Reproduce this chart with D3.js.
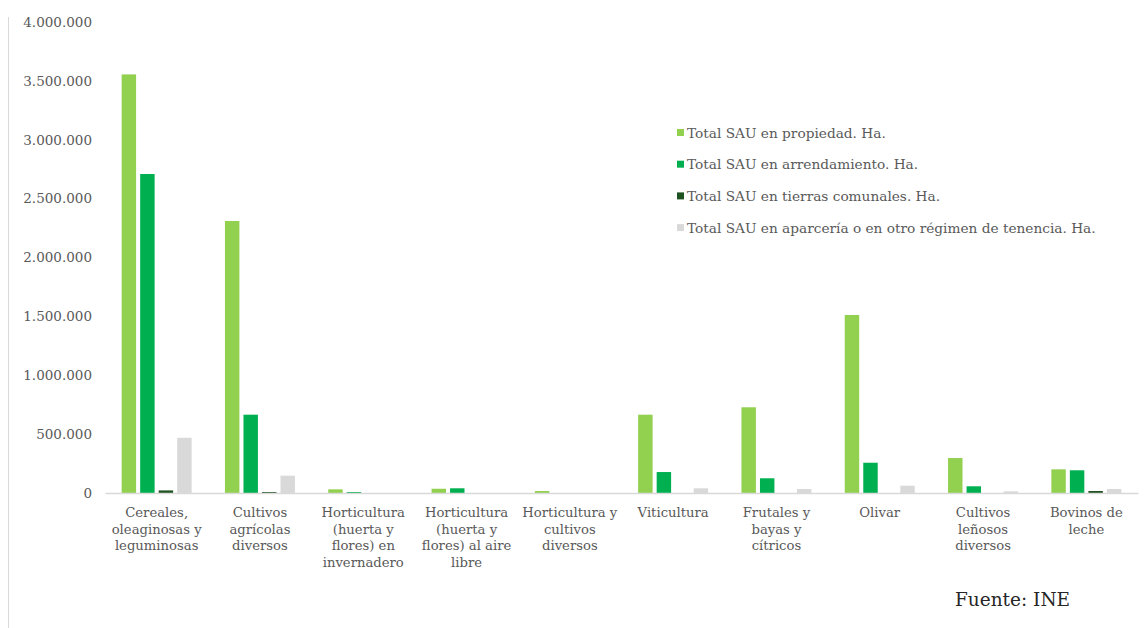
<!DOCTYPE html>
<html>
<head>
<meta charset="utf-8">
<script src="https://cdn.jsdelivr.net/npm/d3@7"></script>
<style>
  html, body { margin: 0; padding: 0; background: #fff; }
  svg { display: block; }
  text { font-family: "DejaVu Serif", "Liberation Serif", serif; }
</style>
</head>
<body>
<svg id="chart" width="1146" height="628"></svg>
<script>
// ---- data ----
const categories = [
  "Cereales, oleaginosas y leguminosas",
  "Cultivos agrícolas diversos",
  "Horticultura (huerta y flores) en invernadero",
  "Horticultura (huerta y flores) al aire libre",
  "Horticultura y cultivos diversos",
  "Viticultura",
  "Frutales y bayas y cítricos",
  "Olivar",
  "Cultivos leñosos diversos",
  "Bovinos de leche"
];
const categoryLines = [
  ["Cereales,", "oleaginosas y", "leguminosas"],
  ["Cultivos", "agrícolas", "diversos"],
  ["Horticultura", "(huerta y", "flores) en", "invernadero"],
  ["Horticultura", "(huerta y", "flores) al aire", "libre"],
  ["Horticultura y", "cultivos", "diversos"],
  ["Viticultura"],
  ["Frutales y", "bayas y", "cítricos"],
  ["Olivar"],
  ["Cultivos", "leñosos", "diversos"],
  ["Bovinos de", "leche"]
];
const seriesNames = [
  "Total SAU en propiedad. Ha.",
  "Total SAU en arrendamiento. Ha.",
  "Total SAU en tierras comunales. Ha.",
  "Total SAU en aparcería o en otro régimen de tenencia. Ha."
];
const propiedad     = [3555000, 2310000, 31000, 36000, 17000, 665000, 728000, 1512000, 297000, 201000];
const arrendamiento = [2709000,  665000,  8000, 40000,     0, 178000, 125000,  257000,  57000, 193000];
const comunales     = [  22000,    8000,     0,     0,     0,      0,      0,       0,      0,  17000];
const aparceria     = [ 469000,  147000,     0,     0,     0,  40000,  34000,   62000,  14000,  34000];
const yTicks = [0, 500000, 1000000, 1500000, 2000000, 2500000, 3000000, 3500000, 4000000];
const sourceText = "Fuente: INE";

const seriesValues = [propiedad, arrendamiento, comunales, aparceria];
const colors = ["#92D050", "#00B050", "#1F5221", "#D9D9D9"];

// ---- layout ----
const svg = d3.select("#chart");
const x0 = d3.scaleBand().domain(categories).range([105, 1138]);
const step = x0.bandwidth();
const x1 = d3.scaleBand().domain(d3.range(seriesNames.length))
  .range([step / 2 - 35, step / 2 + 35]).paddingInner(0.22);
const y = d3.scaleLinear().domain([0, 4000000]).range([493, 22]);

const locale = d3.formatLocale({ decimal: ",", thousands: ".", grouping: [3], currency: ["", "€"] });
const fmt = locale.format(",.0f");

// left frame line
svg.append("line").attr("x1", 8.5).attr("x2", 8.5).attr("y1", 17).attr("y2", 628)
  .attr("stroke", "#d9d9d9").attr("stroke-width", 1);

// y axis labels
const yAxis = d3.axisLeft(y).tickValues(yTicks).tickFormat(fmt).tickSize(0).tickPadding(0);
const gy = svg.append("g").attr("transform", "translate(92,0)").call(yAxis);
gy.select(".domain").remove();
gy.selectAll("text").attr("fill", "#595959").style("font-size", "13.5px")
  .style("font-family", '"DejaVu Serif", serif');

// bars
const groups = svg.append("g").selectAll("g").data(categories).join("g")
  .attr("transform", d => `translate(${x0(d)},0)`);
groups.selectAll("rect")
  .data((d, i) => seriesValues.map((vals, s) => ({ s, v: vals[i] })))
  .join("rect")
  .attr("x", d => x1(d.s))
  .attr("width", x1.bandwidth())
  .attr("y", d => y(d.v))
  .attr("height", d => y(0) - y(d.v))
  .attr("fill", d => colors[d.s]);

// baseline
const xAxis = d3.axisBottom(x0).tickSize(0).tickFormat("");
const gx = svg.append("g").attr("transform", "translate(0,493)").call(xAxis);
gx.select(".domain").attr("stroke", "#d9d9d9").attr("stroke-width", 1.5);

// x labels
const lab = svg.append("g").selectAll("text").data(categories).join("text")
  .attr("text-anchor", "middle")
  .attr("fill", "#595959")
  .style("font-size", "13.2px")
  .attr("transform", d => `translate(${x0(d) + step / 2},517)`);
lab.selectAll("tspan").data((d, i) => categoryLines[i]).join("tspan")
  .attr("x", 0).attr("y", (d, j) => j * 16.7).text(d => d);

// legend
const leg = svg.append("g").selectAll("g").data(seriesNames).join("g")
  .attr("transform", (d, i) => `translate(677,${133 + i * 31.7})`);
leg.append("rect").attr("x", 0).attr("y", -4).attr("width", 7).attr("height", 7)
  .attr("fill", (d, i) => colors[i]);
leg.append("text").attr("x", 10).attr("y", 0).attr("dy", "0.35em")
  .attr("fill", "#595959").style("font-size", "13.7px").text(d => d);

// source
svg.append("text").attr("x", 955).attr("y", 606).attr("fill", "#262626")
  .style("font-size", "18.5px").style("font-family", '"DejaVu Serif", serif').text(sourceText);
</script>
</body>
</html>
